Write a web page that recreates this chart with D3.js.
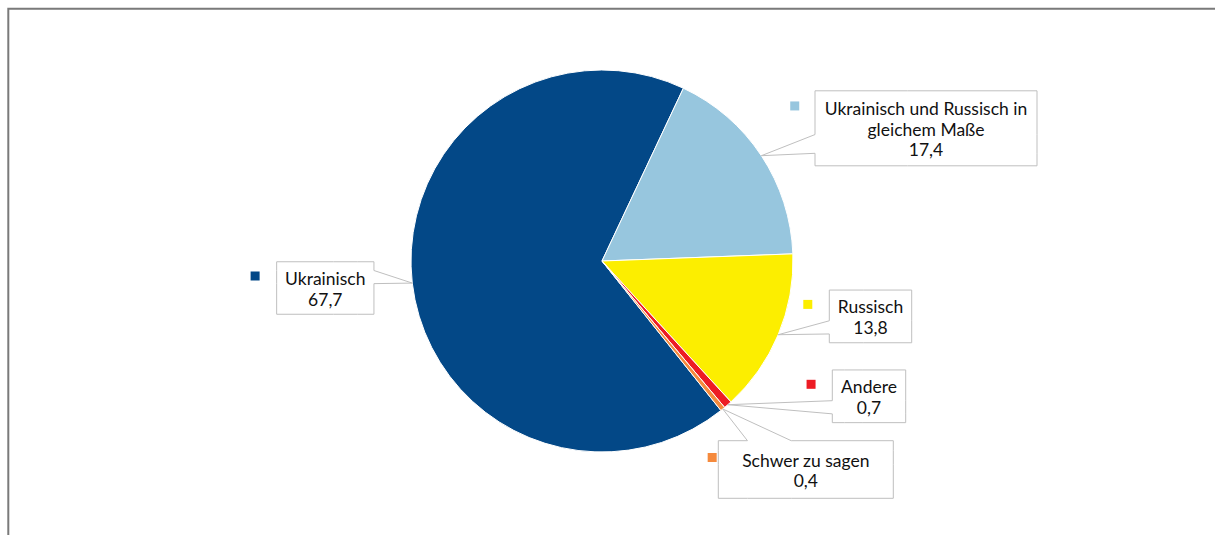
<!DOCTYPE html>
<html><head><meta charset="utf-8">
<script src="https://cdn.jsdelivr.net/npm/d3@7"></script>
<style>html,body{margin:0;padding:0;background:#fff;overflow:hidden}svg{display:block}</style>
</head><body>
<svg id="chart" width="1215" height="535"></svg>
<script>
// ---- data ----
const categories = ["Ukrainisch", "Ukrainisch und Russisch in gleichem Maße", "Russisch", "Andere", "Schwer zu sagen"];
const values = [67.7, 17.4, 13.8, 0.7, 0.4];
const colors = ["#034887", "#97c6de", "#fcee00", "#ed1c24", "#f58a3d"];

// ---- layout (label boxes: centre offset from pie centre, size) ----
const labelOffsets = [[-276.7, 27], [324, -132.7], [268.5, 55.4], [267, 135.3], [203.8, 208.5]];
const labelSizes = [[97.3, 52.5], [222, 75], [82.4, 52.7], [73.4, 52.7], [175, 57.6]];

const W = 1215, H = 535;
const cx = 602, cy = 261, R = 191;
const startDeg = 141.5;
const fontSize = 17.5, lineH = 20.7;
const FONT = "Lato, 'Open Sans', sans-serif";

const svg = d3.select("#chart");

// frame
svg.append("path").attr("d", `M8.3,${H} V8.7 H${W}`)
  .attr("fill", "none").attr("stroke", "#7a7a7a").attr("stroke-width", 2);

const data = categories.map((c, i) => ({name: c, value: values[i], color: colors[i], i}));

const pie = d3.pie().sort(null).value(d => d.value)
  .startAngle(startDeg * Math.PI / 180)
  .endAngle(startDeg * Math.PI / 180 + 2 * Math.PI);
const arcs = pie(data);
const arc = d3.arc().innerRadius(0).outerRadius(R);

const g = svg.append("g").attr("transform", `translate(${cx},${cy})`);
g.selectAll("path.slice").data(arcs).join("path")
  .attr("class", "slice")
  .attr("d", arc)
  .attr("fill", d => d.data.color)
  .attr("stroke", "#ffffff").attr("stroke-width", 1).attr("stroke-linejoin", "round");

const locale = d3.formatLocale({decimal: ",", thousands: ".", grouping: [3], currency: ["", "€"]});
const fmt = locale.format(".1f");

// text measurement
const meas = svg.append("text").attr("font-family", FONT).attr("font-size", fontSize).attr("visibility", "hidden");
function tw(s) { meas.text(s); return meas.node().getComputedTextLength(); }
function wrap(s, maxW) {
  const words = s.split(" ");
  const lines = [];
  let cur = "";
  words.forEach(w => {
    const t = cur ? cur + " " + w : w;
    if (cur && tw(t) > maxW) { lines.push(cur); cur = w; } else cur = t;
  });
  if (cur) lines.push(cur);
  return lines;
}

function wedgePath(x, y, w, h, tx, ty) {
  const dxPos = tx - (x + w / 2), dyPos = ty - (y + h / 2);
  const dx = dxPos * h / w, dy = dyPos;
  const horiz = Math.abs(dx) > Math.abs(dy);
  const x1 = x + w * (dxPos > 0 ? 7 : 2) / 12, x2 = x + w * (dxPos > 0 ? 10 : 5) / 12;
  const y1 = y + h * (dyPos > 0 ? 7 : 2) / 12, y2 = y + h * (dyPos > 0 ? 10 : 5) / 12;
  const T = `L${tx},${ty}`;
  let p = `M${x},${y} `;
  p += `L${x1},${y} ` + (!horiz && dyPos < 0 ? T + " " : "") + `L${x2},${y} L${x + w},${y} `;
  p += `L${x + w},${y1} ` + (horiz && dxPos > 0 ? T + " " : "") + `L${x + w},${y2} L${x + w},${y + h} `;
  p += `L${x2},${y + h} ` + (!horiz && dyPos > 0 ? T + " " : "") + `L${x1},${y + h} L${x},${y + h} `;
  p += `L${x},${y2} ` + (horiz && dxPos < 0 ? T + " " : "") + `L${x},${y1} Z`;
  return p;
}

const labels = svg.append("g");
arcs.forEach((a, i) => {
  const mid = (a.startAngle + a.endAngle) / 2;
  const tx = cx + R * Math.sin(mid), ty = cy - R * Math.cos(mid);
  const [ox, oy] = labelOffsets[i];
  const [bw, bh] = labelSizes[i];
  const bcx = cx + ox, bcy = cy + oy;
  const bx = bcx - bw / 2, by = bcy - bh / 2;
  labels.append("path").attr("d", wedgePath(bx, by, bw, bh, tx, ty))
    .attr("fill", "#ffffff").attr("stroke", "#bfbfbf").attr("stroke-width", 1);
  const lines = wrap(a.data.name, bw - 10).concat([fmt(a.data.value)]);
  const firstBase = bcy - (lines.length - 1) * lineH / 2 + 7.35;
  const t = labels.append("text").attr("font-family", FONT).attr("font-size", fontSize)
    .attr("fill", "#111111").attr("text-anchor", "middle");
  lines.forEach((l, k) => {
    t.append("tspan").attr("x", bcx).attr("y", firstBase + k * lineH).text(l);
  });
  const firstW = tw(lines[0]);
  const mx = bcx - firstW / 2 - 30;
  labels.append("rect").attr("x", mx - 4.5).attr("y", firstBase - 13.5).attr("width", 9).attr("height", 9)
    .attr("fill", a.data.color);
});
meas.remove();
</script>
</body></html>
